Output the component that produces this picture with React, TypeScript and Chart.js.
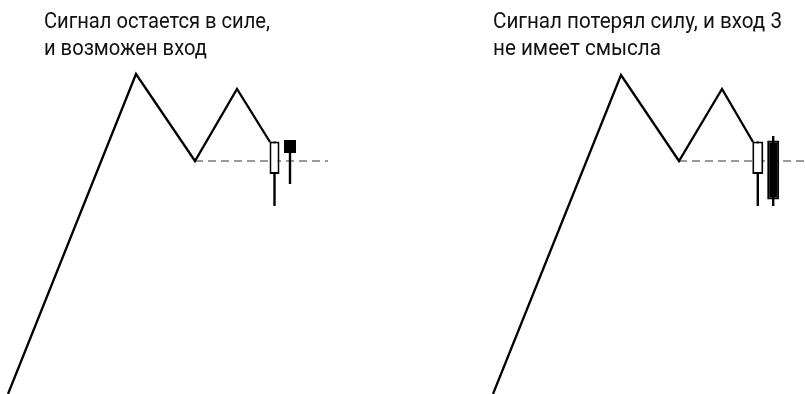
import React, { useEffect, useRef } from "react";
import { Chart, registerables } from "chart.js";

Chart.register(...registerables);

// ---- Data (time units on x, price units on y) ----
const leftTitle = ["Сигнал остается в силе,", "и возможен вход"];
const rightTitle = ["Сигнал потерял силу, и вход 3", "не имеет смысла"];

const leftZigzagTime = [8, 136, 195, 237, 270];
const leftZigzagPrice = [0, 320, 233, 305, 252];
const leftLevelTime = [195, 328];
const leftLevelPrice = [233, 233];

const rightZigzagTime = [493, 621, 679, 722, 753];
const rightZigzagPrice = [0, 319, 233, 305, 252];
const rightLevelTime = [679, 805];
const rightLevelPrice = [233, 233];

// candles: left panel (2) then right panel (2)
const candleTime = [274.5, 290, 757.8, 773.2];
const candleOpen = [220, 254, 220, 253.5];
const candleClose = [252.5, 241, 252.5, 194.5];
const candleHigh = [252.5, 254, 252.5, 258];
const candleLow = [188, 210, 188, 188];
const candleBodyWidth = [10, 12, 11, 12];

const toPoints = (xs: number[], ys: number[]) => xs.map((x, i) => ({ x, y: ys[i] }));

const titlePlugin = {
  id: "panelTitles",
  afterDraw(chart: any) {
    const ctx = chart.ctx;
    const draw = (lines: string[], x: number, firstLineWidth: number) => {
      ctx.save();
      ctx.fillStyle = "#111111";
      ctx.font = '400 22px Roboto, "Noto Sans", sans-serif';
      ctx.textBaseline = "alphabetic";
      ctx.textAlign = "left";
      const w = ctx.measureText(lines[0]).width;
      const sx = firstLineWidth / w;
      ctx.translate(x, 0);
      ctx.scale(sx, 1);
      lines.forEach((t, i) => ctx.fillText(t, 0, 28 + i * 27));
      ctx.restore();
    };
    draw(leftTitle, 44, 226);
    draw(rightTitle, 493, 289);
  },
};

export default function App() {
  const ref = useRef<HTMLCanvasElement | null>(null);

  useEffect(() => {
    if (!ref.current) return;
    const lineCommon = {
      type: "line" as const,
      borderColor: "#000",
      borderWidth: 2.3,
      pointRadius: 0,
      tension: 0,
      fill: false,
      borderJoinStyle: "miter" as const,
      order: 4,
    };
    const levelCommon = {
      type: "line" as const,
      borderColor: "#9a9a9a",
      borderWidth: 2,
      borderDash: [8, 5],
      pointRadius: 0,
      tension: 0,
      fill: false,
      order: 5,
    };
    const bodies = candleTime.map((t, i) => ({
      type: "bar" as const,
      data: [{ x: t, y: [candleOpen[i], candleClose[i]] }],
      barThickness: candleBodyWidth[i],
      backgroundColor: candleClose[i] >= candleOpen[i] ? "#ffffff" : "#000000",
      borderColor: "#000000",
      borderWidth: 2,
      borderSkipped: false,
      inflateAmount: 0,
      grouped: false,
      order: 1,
    }));
    const wicks = {
      type: "bar" as const,
      data: candleTime.map((t, i) => ({ x: t, y: [candleLow[i], candleHigh[i]] })),
      barThickness: 2.4,
      backgroundColor: "#000000",
      borderWidth: 0,
      inflateAmount: 0,
      grouped: false,
      order: 3,
    };

    const chart = new Chart(ref.current, {
      type: "line",
      data: {
        datasets: [
          { ...levelCommon, data: toPoints(leftLevelTime, leftLevelPrice) },
          { ...levelCommon, data: toPoints(rightLevelTime, rightLevelPrice) },
          { ...lineCommon, data: toPoints(leftZigzagTime, leftZigzagPrice) },
          { ...lineCommon, data: toPoints(rightZigzagTime, rightZigzagPrice) },
          wicks,
          ...bodies,
        ] as any,
      },
      options: {
        animation: false,
        responsive: false,
        events: [],
        layout: { padding: 0 },
        plugins: {
          legend: { display: false },
          tooltip: { enabled: false },
          title: { display: false },
        },
        scales: {
          x: { type: "linear", min: 0, max: 805, display: false, offset: false },
          y: { type: "linear", min: 0, max: 394, display: false },
        },
      },
      plugins: [titlePlugin],
    });
    return () => chart.destroy();
  }, []);

  return (
    <div style={{ position: "absolute", left: 0, top: 0, width: 805, height: 394, background: "#fff" }}>
      <canvas ref={ref} width={805} height={394} style={{ display: "block" }} />
    </div>
  );
}
